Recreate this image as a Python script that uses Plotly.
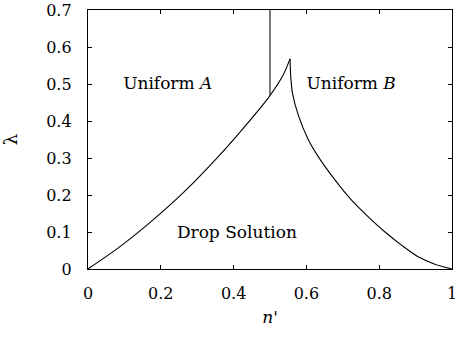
import plotly.graph_objects as go

# Phase boundary between the drop solution and uniform A
left_x = [0.0, 0.086, 0.178, 0.269, 0.361, 0.434, 0.498, 0.535, 0.555]
left_y = [0.0, 0.059, 0.132, 0.213, 0.307, 0.389, 0.466, 0.522, 0.568]

# Phase boundary between the drop solution and uniform B
right_x = [0.555, 0.557, 0.562, 0.578, 0.605, 0.633, 0.679, 0.724, 0.770,
           0.816, 0.862, 0.907, 0.953, 1.0]
right_y = [0.568, 0.52, 0.474, 0.415, 0.350, 0.303, 0.240, 0.186, 0.141,
           0.100, 0.064, 0.033, 0.013, 0.0]

# Boundary separating uniform A from uniform B
split_x = [0.5, 0.5]
split_y = [0.468, 0.7]

x_ticks = [0, 0.2, 0.4, 0.6, 0.8, 1]
x_tick_text = ["0", "0.2", "0.4", "0.6", "0.8", "1"]
y_ticks = [0, 0.1, 0.2, 0.3, 0.4, 0.5, 0.6, 0.7]
y_tick_text = ["0", "0.1", "0.2", "0.3", "0.4", "0.5", "0.6", "0.7"]

region_labels = ["Uniform <i>A</i>", "Uniform <i>B</i>", "Drop Solution"]
region_x = [0.219, 0.723, 0.409]
region_y = [0.497, 0.497, 0.094]

FONT = "'DejaVu Serif'"

fig = go.Figure()
curve = dict(color="black", width=1.1, shape="spline", smoothing=0.8)
fig.add_trace(go.Scatter(x=left_x, y=left_y, mode="lines", line=curve, hoverinfo="skip"))
fig.add_trace(go.Scatter(x=right_x, y=right_y, mode="lines", line=curve, hoverinfo="skip"))
fig.add_trace(go.Scatter(x=split_x, y=split_y, mode="lines",
                         line=dict(color="#333333", width=1.3), hoverinfo="skip"))
fig.add_trace(go.Scatter(x=region_x, y=region_y, mode="text", text=region_labels,
                         textfont=dict(family=FONT, size=17, color="black"),
                         hoverinfo="skip"))

axis_common = dict(
    showgrid=False, zeroline=False, showline=True, linecolor="black", linewidth=1.3,
    mirror="ticks", ticks="inside", ticklen=4, tickwidth=1.2, tickcolor="black",
    tickfont=dict(family=FONT, size=16, color="black"), automargin=False,
    ticklabeloverflow="allow",
)
fig.update_xaxes(range=[0, 1], tickvals=x_ticks, ticktext=x_tick_text,
                 ticklabelstandoff=10,
                 title=dict(text="<i>n'</i>", font=dict(family=FONT, size=17, color="black"),
                            standoff=8),
                 **axis_common)
fig.update_yaxes(range=[0, 0.7], tickvals=y_ticks, ticktext=y_tick_text,
                 ticklabelstandoff=12,
                 title=dict(text="λ", font=dict(family=FONT, size=18, color="black"),
                            standoff=26),
                 **axis_common)

fig.update_layout(
    width=456, height=337, showlegend=False,
    margin=dict(l=88, r=4, t=10, b=68, pad=0),
    plot_bgcolor="white", paper_bgcolor="white",
)

fig.write_html("out.html", config={"displayModeBar": False})
